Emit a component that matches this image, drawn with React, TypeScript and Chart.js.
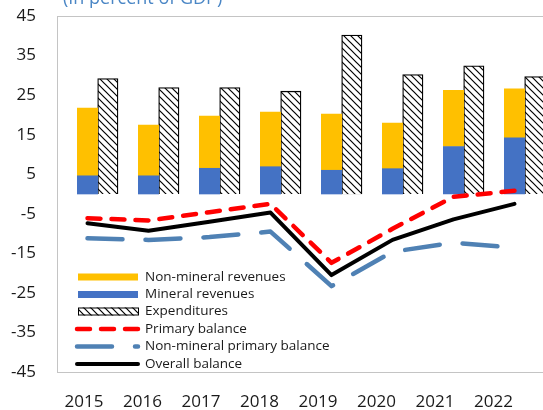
import React, { useEffect, useRef } from 'react';
import { Chart, registerables } from 'chart.js';

Chart.register(...registerables);

const years = ['2015', '2016', '2017', '2018', '2019', '2020', '2021', '2022'];
const mineralRevenues = [4.6, 4.6, 6.5, 6.9, 6.0, 6.4, 12.0, 14.2];
const nonMineralRevenues = [17.1, 12.8, 13.2, 13.8, 14.2, 11.5, 14.2, 12.4];
const expenditures = [29.2, 26.9, 26.9, 26.0, 40.2, 30.2, 32.4, 29.7];
const primaryBalance = [-6.1, -6.7, -4.6, -2.5, -17.4, -8.8, -0.7, 0.8];
const nonMineralPrimaryBalance = [-11.2, -11.6, -10.9, -9.5, -23.3, -14.6, -12.3, -13.6];
const overallBalance = [-7.4, -9.3, -7.0, -4.7, -20.5, -11.6, -6.4, -2.5];
const yTicks = [-45, -35, -25, -15, -5, 5, 15, 25, 35, 45];
const titleText = '(In percent of GDP)';

const FONT = "'Open Sans', sans-serif";
const YELLOW = '#FFC000';
const BLUE = '#4472C4';
const RED = '#FF0000';
const STEEL = '#4F81B4';
const LABEL_MIN = -0.4615;
const LABEL_MAX = 7.88;

function makeHatch(ctx: CanvasRenderingContext2D) {
  const s = 7;
  const c = document.createElement('canvas');
  c.width = s;
  c.height = s;
  const g = c.getContext('2d')!;
  g.fillStyle = '#fff';
  g.fillRect(0, 0, s, s);
  g.strokeStyle = '#000';
  g.lineWidth = 1.2;
  g.beginPath();
  g.moveTo(-1, -1);
  g.lineTo(s + 1, s + 1);
  g.moveTo(-1, s - 1);
  g.lineTo(1, s + 1);
  g.moveTo(s - 1, -1);
  g.lineTo(s + 1, 1);
  g.stroke();
  return ctx.createPattern(c, 'repeat')!;
}

export default function App() {
  const ref = useRef<HTMLCanvasElement | null>(null);

  useEffect(() => {
    const canvas = ref.current!;
    const ctx = canvas.getContext('2d')!;
    const hatch = makeHatch(ctx);

    const frame = {
      id: 'frame',
      beforeDatasetsDraw(chart: any) {
        const { ctx, chartArea: a } = chart;
        ctx.save();
        ctx.strokeStyle = '#C4C4C4';
        ctx.lineWidth = 1;
        ctx.strokeRect(Math.round(a.left) + 0.5, Math.round(a.top) + 0.5, a.right - a.left, a.bottom - a.top);
        ctx.restore();
      },
      afterDraw(chart: any) {
        const { ctx } = chart;
        ctx.save();
        ctx.font = `18px ${FONT}`;
        ctx.fillStyle = '#4A86C5';
        ctx.textBaseline = 'alphabetic';
        ctx.textAlign = 'left';
        ctx.fillText(titleText, 63, 4);

        const rows = [277, 294.5, 311.5, 329, 346.5, 364];
        const x0 = 78;
        const x1 = 138;
        ctx.font = `13.5px ${FONT}`;
        ctx.textBaseline = 'middle';
        const ds = chart.data.datasets;
        const items = [ds[4], ds[5], ds[6], ds[0], ds[1], ds[2]];
        items.forEach((d: any, i: number) => {
          const y = rows[i];
          if (i === 0 || i === 1) {
            ctx.fillStyle = d.backgroundColor;
            ctx.fillRect(x0, y - 3.5, x1 - x0, 7);
          } else if (i === 2) {
            ctx.fillStyle = hatch;
            ctx.fillRect(x0, y - 4, x1 - x0, 8);
            ctx.strokeStyle = '#000';
            ctx.lineWidth = 1;
            ctx.strokeRect(x0 + 0.5, y - 3.5, x1 - x0, 7);
          } else {
            ctx.strokeStyle = d.borderColor;
            ctx.lineWidth = d.borderWidth;
            ctx.lineCap = 'round';
            ctx.setLineDash(d.borderDash || []);
            ctx.beginPath();
            ctx.moveTo(x0 - 1, y);
            ctx.lineTo(x1, y);
            ctx.stroke();
            ctx.setLineDash([]);
          }
          ctx.fillStyle = '#1a1a1a';
          ctx.fillText(d.label, 145, y);
        });
        ctx.restore();
      },
    };

    const chart = new Chart(canvas, {
      type: 'bar',
      data: {
        labels: years,
        datasets: [
          {
            type: 'line',
            label: 'Primary balance',
            data: primaryBalance,
            borderColor: RED,
            borderWidth: 4.5,
            borderDash: [13, 11],
            borderCapStyle: 'round',
            borderJoinStyle: 'round',
            pointRadius: 0,
            tension: 0,
            fill: false,
            stack: 'l1',
            order: 0.1,
          },
          {
            type: 'line',
            label: 'Non-mineral primary balance',
            data: nonMineralPrimaryBalance,
            borderColor: STEEL,
            borderWidth: 4.5,
            borderDash: [35, 23],
            borderCapStyle: 'round',
            borderJoinStyle: 'round',
            pointRadius: 0,
            tension: 0,
            fill: false,
            stack: 'l2',
            order: 0.2,
          },
          {
            type: 'line',
            label: 'Overall balance',
            data: overallBalance,
            borderColor: '#000',
            borderWidth: 4,
            borderCapStyle: 'round',
            borderJoinStyle: 'round',
            pointRadius: 0,
            tension: 0,
            fill: false,
            stack: 'l3',
            order: 0,
          },
          {
            type: 'bar',
            label: 'spacer',
            data: [],
            stack: 's0',
            order: 1,
          },
          {
            type: 'bar',
            label: 'Non-mineral revenues',
            data: nonMineralRevenues,
            backgroundColor: YELLOW,
            borderWidth: 0,
            stack: 'rev',
            order: 1.1,
          },
          {
            type: 'bar',
            label: 'Mineral revenues',
            data: mineralRevenues,
            backgroundColor: BLUE,
            borderWidth: 0,
            stack: 'rev',
            order: 1.05,
          },
          {
            type: 'bar',
            label: 'Expenditures',
            data: expenditures,
            backgroundColor: hatch,
            borderColor: '#000',
            borderWidth: 1.3,
            stack: 'exp',
            order: 1.2,
          },
        ] as any,
      },
      options: {
        animation: false,
        responsive: false,
        devicePixelRatio: 1,
        categoryPercentage: 1,
        barPercentage: 1,
        layout: { padding: { top: 16, right: 3, left: 0, bottom: 0 } },
        plugins: {
          legend: { display: false },
          title: { display: false },
          tooltip: { enabled: false },
        },
        scales: {
          x: {
            type: 'category',
            display: false,
            stacked: true,
            offset: true,
            grid: { display: false },
          },
          xl: {
            type: 'linear',
            position: 'bottom',
            bounds: 'data',
            offset: false,
            min: LABEL_MIN,
            max: LABEL_MAX,
            grid: { display: false, drawTicks: false, offset: false },
            border: { display: false },
            afterBuildTicks(scale: any) {
              scale.ticks = years.map((_, i) => ({ value: i }));
              scale.min = LABEL_MIN;
              scale.max = LABEL_MAX;
            },
            afterFit(scale: any) {
              scale.height = 38;
              scale.paddingLeft = 0;
              scale.paddingRight = 0;
            },
            ticks: {
              autoSkip: false,
              maxRotation: 0,
              padding: 20,
              color: '#1a1a1a',
              font: { family: FONT, size: 17 },
              callback: (v: any) => years[v] ?? '',
            },
          },
          y: {
            type: 'linear',
            stacked: true,
            min: -45,
            max: 45,
            grid: { display: false, drawTicks: false },
            border: { display: false },
            afterBuildTicks(scale: any) {
              scale.ticks = yTicks.map((v) => ({ value: v }));
            },
            afterFit(scale: any) {
              scale.width = 57;
              scale.paddingTop = 0;
              scale.paddingBottom = 0;
            },
            ticks: {
              padding: 21,
              color: '#1a1a1a',
              font: { family: FONT, size: 17 },
            },
          },
        },
      } as any,
      plugins: [frame],
    });

    return () => chart.destroy();
  }, []);

  return (
    <div style={{ position: 'fixed', left: 0, top: 0, width: 543, height: 410, overflow: 'hidden', background: '#fff' }}>
      <canvas ref={ref} width={548} height={410} style={{ width: 548, height: 410, display: 'block' }} />
    </div>
  );
}
